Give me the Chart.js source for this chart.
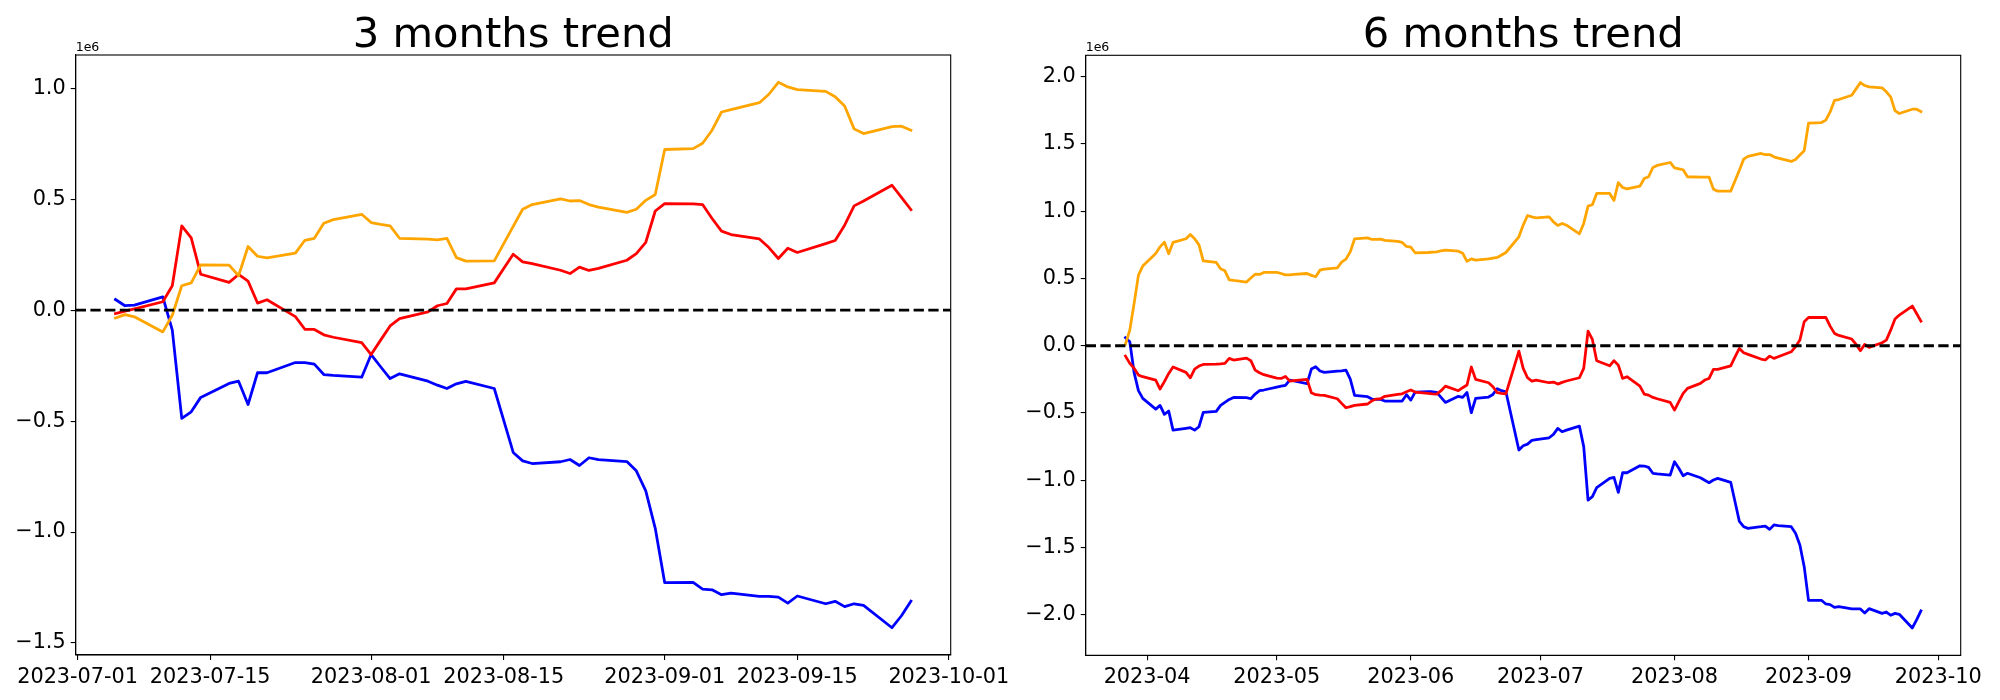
<!DOCTYPE html>
<html>
<head>
<meta charset="utf-8">
<script src="https://cdn.jsdelivr.net/npm/chart.js@4.4.1/dist/chart.umd.min.js"></script>
<style>
    body { margin: 0; background: #fff; }
    #wrap { position: relative; width: 2000px; height: 700px; overflow: hidden; }
    canvas { position: absolute; top: 0; }
</style>
</head>
<body>
<div id="wrap">
    <canvas id="chart3" width="1040" height="700" style="left:0"></canvas>
    <canvas id="chart6" width="1000" height="700" style="left:1000px"></canvas>
</div>
<script>
// values are in units of 1e6 (the axes show the "1e6" offset)

// ---- 3 months ----
const dates3 = [
    '2023-07-05', '2023-07-06', '2023-07-07', '2023-07-10', '2023-07-11', '2023-07-12', '2023-07-13', '2023-07-14',
    '2023-07-17', '2023-07-18', '2023-07-19', '2023-07-20', '2023-07-21', '2023-07-24', '2023-07-25', '2023-07-26',
    '2023-07-27', '2023-07-28', '2023-07-31',
    '2023-08-01', '2023-08-02', '2023-08-03', '2023-08-04', '2023-08-07', '2023-08-08', '2023-08-09', '2023-08-10',
    '2023-08-11', '2023-08-14', '2023-08-15', '2023-08-16', '2023-08-17', '2023-08-18', '2023-08-21', '2023-08-22',
    '2023-08-23', '2023-08-24', '2023-08-25', '2023-08-28', '2023-08-29', '2023-08-30', '2023-08-31',
    '2023-09-01', '2023-09-04', '2023-09-05', '2023-09-06', '2023-09-07', '2023-09-08', '2023-09-11', '2023-09-12',
    '2023-09-13', '2023-09-14', '2023-09-15', '2023-09-18', '2023-09-19', '2023-09-20', '2023-09-21', '2023-09-22',
    '2023-09-25', '2023-09-26', '2023-09-27'
];
const blue3 = [
    0.048, 0.020, 0.023, 0.060, -0.090, -0.488, -0.458, -0.393, -0.330, -0.320, -0.425, -0.282, -0.282, -0.236, -0.236, -0.243,
    -0.290, -0.294, -0.302,
    -0.200, -0.255, -0.308, -0.287, -0.320, -0.338, -0.353, -0.332, -0.321, -0.353, -0.497, -0.641, -0.679, -0.691, -0.683, -0.673,
    -0.700, -0.665, -0.673, -0.682, -0.724, -0.814, -0.983,
    -1.228, -1.227, -1.257, -1.260, -1.282, -1.275, -1.290, -1.290, -1.293, -1.320, -1.288, -1.323, -1.312, -1.336, -1.323, -1.330,
    -1.431, -1.377, -1.311
];
const red3 = [
    -0.015, -0.004, 0.006, 0.038, 0.110, 0.380, 0.326, 0.162, 0.125, 0.161, 0.131, 0.032, 0.047, -0.029, -0.086, -0.087,
    -0.111, -0.122, -0.146,
    -0.200, -0.135, -0.071, -0.038, -0.008, 0.020, 0.030, 0.096, 0.096, 0.123, 0.188, 0.252, 0.218, 0.210, 0.180, 0.165,
    0.194, 0.179, 0.188, 0.225, 0.255, 0.306, 0.447,
    0.480, 0.479, 0.476, 0.413, 0.356, 0.341, 0.321, 0.282, 0.233, 0.279, 0.260, 0.300, 0.314, 0.383, 0.470, 0.492,
    0.563, 0.508, 0.453
];
const orange3 = [
    -0.035, -0.020, -0.030, -0.098, -0.023, 0.110, 0.123, 0.204, 0.203, 0.155, 0.287, 0.243, 0.236, 0.257, 0.315, 0.324,
    0.392, 0.408, 0.432,
    0.395, 0.387, 0.380, 0.324, 0.320, 0.317, 0.324, 0.237, 0.221, 0.222, 0.300, 0.378, 0.455, 0.476, 0.502, 0.492,
    0.494, 0.476, 0.464, 0.441, 0.455, 0.495, 0.521,
    0.724, 0.728, 0.752, 0.811, 0.893, 0.904, 0.935, 0.973, 1.027, 1.006, 0.994, 0.986, 0.962, 0.920, 0.817, 0.796,
    0.827, 0.829, 0.811
];
const xTicks3 = ['2023-07-01', '2023-07-15', '2023-08-01', '2023-08-15', '2023-09-01', '2023-09-15', '2023-10-01'];
const xLabels3 = ['2023-07-01', '2023-07-15', '2023-08-01', '2023-08-15', '2023-09-01', '2023-09-15', '2023-10-01'];
const yTicks3 = [-1.5, -1.0, -0.5, 0.0, 0.5, 1.0];

// ---- 6 months ----
const dates6 = [
    '2023-03-27', '2023-03-28', '2023-03-29', '2023-03-30', '2023-03-31',
    '2023-04-03', '2023-04-04', '2023-04-05', '2023-04-06', '2023-04-07', '2023-04-10', '2023-04-11', '2023-04-12',
    '2023-04-13', '2023-04-14', '2023-04-17', '2023-04-18', '2023-04-19', '2023-04-20', '2023-04-21', '2023-04-24',
    '2023-04-25', '2023-04-26', '2023-04-27', '2023-04-28',
    '2023-05-01', '2023-05-02', '2023-05-03', '2023-05-04', '2023-05-05', '2023-05-08', '2023-05-09', '2023-05-10',
    '2023-05-11', '2023-05-12', '2023-05-15', '2023-05-16', '2023-05-17', '2023-05-18', '2023-05-19', '2023-05-22',
    '2023-05-23', '2023-05-24', '2023-05-25', '2023-05-26', '2023-05-29', '2023-05-30', '2023-05-31',
    '2023-06-01', '2023-06-02', '2023-06-05', '2023-06-06', '2023-06-07', '2023-06-08', '2023-06-09', '2023-06-12',
    '2023-06-13', '2023-06-14', '2023-06-15', '2023-06-16', '2023-06-19', '2023-06-20', '2023-06-21', '2023-06-22',
    '2023-06-23', '2023-06-26', '2023-06-27', '2023-06-28', '2023-06-29', '2023-06-30',
    '2023-07-03', '2023-07-04', '2023-07-05', '2023-07-06', '2023-07-07', '2023-07-10', '2023-07-11', '2023-07-12',
    '2023-07-13', '2023-07-14', '2023-07-17', '2023-07-18', '2023-07-19', '2023-07-20', '2023-07-21', '2023-07-24',
    '2023-07-25', '2023-07-26', '2023-07-27', '2023-07-28', '2023-07-31',
    '2023-08-01', '2023-08-02', '2023-08-03', '2023-08-04', '2023-08-07', '2023-08-08', '2023-08-09', '2023-08-10',
    '2023-08-11', '2023-08-14', '2023-08-15', '2023-08-16', '2023-08-17', '2023-08-18', '2023-08-21', '2023-08-22',
    '2023-08-23', '2023-08-24', '2023-08-25', '2023-08-28', '2023-08-29', '2023-08-30', '2023-08-31',
    '2023-09-01', '2023-09-04', '2023-09-05', '2023-09-06', '2023-09-07', '2023-09-08', '2023-09-11', '2023-09-12',
    '2023-09-13', '2023-09-14', '2023-09-15', '2023-09-18', '2023-09-19', '2023-09-20', '2023-09-21', '2023-09-22',
    '2023-09-25', '2023-09-26', '2023-09-27'
];
const blue6 = [
    0.060, 0.030, -0.200, -0.334, -0.391,
    -0.471, -0.443, -0.510, -0.485, -0.627, -0.614, -0.609, -0.627, -0.602, -0.495, -0.488, -0.443, -0.421, -0.399, -0.384,
    -0.386, -0.394, -0.359, -0.334, -0.329,
    -0.307, -0.300, -0.295, -0.255, -0.262, -0.282, -0.173, -0.156, -0.188, -0.198, -0.188, -0.186, -0.181, -0.248, -0.369,
    -0.379, -0.396, -0.399, -0.399, -0.411, -0.411, -0.411, -0.364,
    -0.404, -0.344, -0.342, -0.342, -0.347, -0.384, -0.421, -0.376, -0.384, -0.347, -0.498, -0.391, -0.381, -0.362, -0.319,
    -0.334, -0.342, -0.775, -0.743, -0.731, -0.703, -0.698,
    -0.684, -0.659, -0.614, -0.639, -0.627, -0.597, -0.750, -1.147, -1.122, -1.055, -0.986, -0.978, -1.090, -0.944, -0.944,
    -0.892, -0.894, -0.904, -0.948, -0.953, -0.961,
    -0.862, -0.911, -0.966, -0.948, -0.981, -1.000, -1.018, -0.998, -0.986, -1.015, -1.159, -1.305, -1.345, -1.357, -1.345,
    -1.340, -1.365, -1.332, -1.337, -1.345, -1.394, -1.481, -1.642,
    -1.892, -1.892, -1.919, -1.924, -1.944, -1.939, -1.956, -1.956, -1.956, -1.986, -1.954, -1.989, -1.979, -2.003, -1.989,
    -1.996, -2.098, -2.038, -1.971
];
const red6 = [
    -0.077, -0.131, -0.168, -0.218, -0.230,
    -0.255, -0.322, -0.267, -0.206, -0.158, -0.198, -0.238, -0.173, -0.151, -0.139, -0.136, -0.134, -0.131, -0.094, -0.106,
    -0.092, -0.111, -0.181, -0.201, -0.215,
    -0.240, -0.243, -0.228, -0.263, -0.260, -0.250, -0.349, -0.364, -0.367, -0.369, -0.394, -0.428, -0.461, -0.453, -0.443,
    -0.433, -0.409, -0.396, -0.394, -0.376, -0.362, -0.357, -0.342,
    -0.329, -0.344, -0.354, -0.357, -0.359, -0.334, -0.300, -0.334, -0.312, -0.292, -0.158, -0.250, -0.275, -0.305, -0.349,
    -0.354, -0.357, -0.040, -0.168, -0.238, -0.263, -0.255,
    -0.275, -0.270, -0.285, -0.272, -0.262, -0.238, -0.168, 0.109, 0.047, -0.111, -0.149, -0.111, -0.144, -0.243, -0.230,
    -0.300, -0.359, -0.367, -0.384, -0.394, -0.421,
    -0.478, -0.416, -0.354, -0.317, -0.280, -0.255, -0.243, -0.176, -0.176, -0.149, -0.082, -0.020, -0.052, -0.064, -0.099,
    -0.106, -0.077, -0.094, -0.082, -0.045, -0.007, 0.042, 0.178,
    0.210, 0.210, 0.210, 0.146, 0.092, 0.077, 0.050, 0.010, -0.037, 0.010, -0.012, 0.022, 0.042, 0.116, 0.198,
    0.228, 0.295, 0.240, 0.183
];
const orange6 = [
    0.012, 0.116, 0.315, 0.525, 0.592,
    0.686, 0.735, 0.770, 0.684, 0.768, 0.795, 0.827, 0.795, 0.750, 0.631, 0.619, 0.572, 0.557, 0.490, 0.485,
    0.473, 0.503, 0.532, 0.530, 0.545,
    0.545, 0.537, 0.527, 0.527, 0.530, 0.537, 0.523, 0.513, 0.562, 0.570, 0.579, 0.622, 0.644, 0.698, 0.795,
    0.802, 0.790, 0.790, 0.792, 0.783, 0.775, 0.768, 0.738,
    0.733, 0.691, 0.693, 0.696, 0.698, 0.706, 0.711, 0.703, 0.688, 0.627, 0.646, 0.636, 0.646, 0.651, 0.656,
    0.674, 0.693, 0.810, 0.897, 0.968, 0.958, 0.951,
    0.958, 0.921, 0.894, 0.909, 0.896, 0.832, 0.909, 1.038, 1.048, 1.132, 1.132, 1.080, 1.213, 1.176, 1.166,
    1.186, 1.243, 1.256, 1.325, 1.340, 1.362,
    1.322, 1.315, 1.308, 1.256, 1.253, 1.253, 1.253, 1.164, 1.149, 1.149, 1.226, 1.305, 1.387, 1.407, 1.429,
    1.421, 1.421, 1.404, 1.394, 1.370, 1.384, 1.417, 1.449,
    1.654, 1.659, 1.677, 1.738, 1.823, 1.830, 1.862, 1.909, 1.956, 1.934, 1.924, 1.917, 1.887, 1.850, 1.748,
    1.726, 1.758, 1.758, 1.741
];
const xTicks6 = ['2023-04-01', '2023-05-01', '2023-06-01', '2023-07-01', '2023-08-01', '2023-09-01', '2023-10-01'];
const xLabels6 = ['2023-04', '2023-05', '2023-06', '2023-07', '2023-08', '2023-09', '2023-10'];
const yTicks6 = [-2.0, -1.5, -1.0, -0.5, 0.0, 0.5, 1.0, 1.5, 2.0];

const FONT = 'DejaVu Sans';
Chart.defaults.font.family = FONT;
Chart.defaults.color = '#000';

function dayNum(s) {
    const [y, m, d] = s.split('-').map(Number);
    return Date.UTC(y, m - 1, d) / 86400000;
}

function fmtY(v) {
    return (v < 0 ? '\u2212' : '') + Math.abs(v).toFixed(1);
}

// axes box, title and the "1e6" offset text, like matplotlib draws them
const framePlugin = {
    id: 'frame',
    afterDatasetsDraw(chart, args, opts) {
        const { ctx, chartArea: a } = chart;
        ctx.save();
        ctx.strokeStyle = '#000';
        ctx.lineWidth = 1.1;
        ctx.strokeRect(a.left, a.top, a.right - a.left, a.bottom - a.top);
        ctx.fillStyle = '#000';
        ctx.textBaseline = 'alphabetic';
        ctx.textAlign = 'center';
        ctx.font = `41.7px "${FONT}"`;
        ctx.fillText(opts.title, (a.left + a.right) / 2, a.top - 8.3);
        ctx.textAlign = 'left';
        ctx.font = `12.5px "${FONT}"`;
        ctx.fillText('1e6', a.left, a.top - 4.5);
        ctx.restore();
    }
};

function makeChart(id, cfg) {
    const xs = cfg.dates.map(dayNum);
    const x0 = xs[0], x1 = xs[xs.length - 1];
    const xPad = (x1 - x0) * 0.05;
    const allY = [...cfg.blue, ...cfg.red, ...cfg.orange, 0];
    const y0 = Math.min(...allY), y1 = Math.max(...allY);
    const yPad = (y1 - y0) * 0.05;
    const xmin = x0 - xPad, xmax = x1 + xPad;

    const toPoints = vals => xs.map((x, i) => ({ x: x, y: vals[i] }));
    const line = (vals, color, order) => ({
        data: toPoints(vals),
        borderColor: color,
        borderWidth: 2.78,
        pointRadius: 0,
        tension: 0,
        borderJoinStyle: 'round',
        borderCapStyle: 'square',
        order: order
    });

    const tickVals = cfg.xTicks.map(dayNum);
    const axisTicks = { font: { size: 20.8, family: FONT }, color: '#000', padding: 5 };
    const axisGrid = { display: true, drawOnChartArea: false, drawTicks: true, tickLength: 5, color: '#000', lineWidth: 1.1 };

    return new Chart(document.getElementById(id), {
        type: 'line',
        data: {
            datasets: [
                line(cfg.blue, '#0000ff', 4),
                line(cfg.red, '#ff0000', 3),
                line(cfg.orange, '#ffa500', 2),
                {
                    data: [{ x: xmin, y: 0 }, { x: xmax, y: 0 }],
                    borderColor: '#000',
                    borderWidth: 2.78,
                    borderDash: [10.3, 4.4],
                    pointRadius: 0,
                    order: 1
                }
            ]
        },
        options: {
            responsive: false,
            animation: false,
            layout: { padding: cfg.padding },
            plugins: {
                legend: { display: false },
                tooltip: { enabled: false },
                frame: { title: cfg.title }
            },
            scales: {
                x: {
                    type: 'linear',
                    min: xmin,
                    max: xmax,
                    grid: axisGrid,
                    border: { display: true, color: '#000', width: 1.1 },
                    ticks: Object.assign({}, axisTicks, {
                        autoSkip: false,
                        maxRotation: 0,
                        minRotation: 0,
                        callback: function(value) {
                            const i = tickVals.indexOf(value);
                            return i >= 0 ? cfg.xLabels[i] : '';
                        }
                    }),
                    afterBuildTicks: scale => { scale.ticks = tickVals.map(v => ({ value: v })); },
                    afterFit: scale => { scale.height = cfg.xHeight; }
                },
                y: {
                    type: 'linear',
                    min: y0 - yPad,
                    max: y1 + yPad,
                    grid: axisGrid,
                    border: { display: true, color: '#000', width: 1.1 },
                    ticks: Object.assign({}, axisTicks, {
                        callback: value => fmtY(value)
                    }),
                    afterBuildTicks: scale => { scale.ticks = cfg.yTicks.map(v => ({ value: v })); },
                    afterFit: scale => { scale.width = cfg.yWidth; }
                }
            }
        },
        plugins: [framePlugin]
    });
}

makeChart('chart3', {
    title: '3 months trend',
    dates: dates3, blue: blue3, red: red3, orange: orange3,
    xTicks: xTicks3, xLabels: xLabels3, yTicks: yTicks3,
    padding: { left: 0, right: 89.3, top: 55, bottom: 0 },
    yWidth: 75.7, xHeight: 45
});

makeChart('chart6', {
    title: '6 months trend',
    dates: dates6, blue: blue6, red: red6, orange: orange6,
    xTicks: xTicks6, xLabels: xLabels6, yTicks: yTicks6,
    padding: { left: 0, right: 39.3, top: 55.3, bottom: 0 },
    yWidth: 85.7, xHeight: 44.7
});
</script>
</body>
</html>
